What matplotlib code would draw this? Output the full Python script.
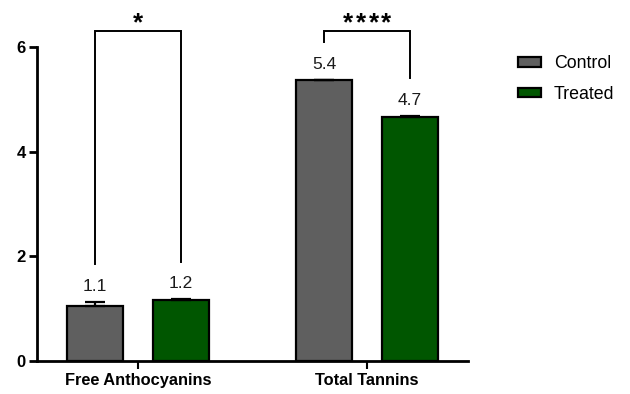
import matplotlib
matplotlib.use("Agg")
import matplotlib.pyplot as plt
import numpy as np
from matplotlib.patches import Patch

plt.rcParams["font.family"] = ["Liberation Sans", "DejaVu Sans"]

categories = ["Free Anthocyanins", "Total Tannins"]
groups = ["Control", "Treated"]
control_mean = [1.06, 5.36]
control_sd = [0.07, 0.01]
treated_mean = [1.16, 4.67]
treated_sd = [0.02, 0.01]
sig_stars = [1, 4]
yticks = [0, 2, 4, 6]

COLORS = {"Control": "#5f5f5f", "Treated": "#005600"}

fig = plt.figure(figsize=(6.3, 3.94), dpi=100)
ax = fig.add_axes([0.0587, 0.0838, 0.743 - 0.0587, 0.8807 - 0.0838])

x = np.arange(len(categories))
off, width = 0.188, 0.245
series = [(control_mean, control_sd, "Control", -off), (treated_mean, treated_sd, "Treated", off)]
for means, sds, name, dx in series:
    ax.bar(x + dx, means, width, color=COLORS[name], edgecolor="black", linewidth=1.6, zorder=2)
    ax.errorbar(x + dx, means, yerr=[np.zeros(len(sds)), sds], fmt="none", ecolor="black",
                elinewidth=1.6, capsize=7, capthick=1.6, zorder=3)
    for xi, m, s in zip(x + dx, means, sds):
        ax.annotate(f"{m:.1f}", (xi, m + s), xytext=(0, 6), textcoords="offset points",
                    ha="center", va="bottom", fontsize=12.5, color="#1a1a1a")

# significance brackets between the two groups of each category
bracket_top = 6.31
star_pitch = 9.2  # points between asterisks
for i, n in enumerate(sig_stars):
    x0, x1 = x[i] - off, x[i] + off
    y0 = control_mean[i] + control_sd[i] + 0.72
    y1 = treated_mean[i] + treated_sd[i] + 0.72
    ax.plot([x0, x0, x1, x1], [y0, bracket_top, bracket_top, y1], color="black", lw=1.4,
            clip_on=False, solid_joinstyle="miter")
    for k in range(n):
        dx_pt = (k - (n - 1) / 2) * star_pitch
        ax.annotate("*", (x[i], bracket_top), xytext=(dx_pt, 0.5), textcoords="offset points",
                    ha="center", va="baseline", fontsize=18.5, fontweight="bold",
                    annotation_clip=False)

ax.set_xlim(-0.441, 1.441)
ax.set_ylim(0, 6)
ax.set_yticks(yticks)
ax.set_yticklabels([str(t) for t in yticks], fontweight="bold", fontsize=12)
ax.set_xticks(x)
ax.set_xticklabels(categories, fontweight="bold", fontsize=11.8)
for side in ("top", "right"):
    ax.spines[side].set_visible(False)
for side in ("left", "bottom"):
    ax.spines[side].set_linewidth(2)
ax.tick_params(axis="y", length=6, width=2, pad=2)
ax.tick_params(axis="x", length=6, width=1.5, pad=3)

handles = [Patch(facecolor=COLORS[g], edgecolor="black", linewidth=1.6) for g in groups]
fig.legend(handles, groups, loc="upper left", bbox_to_anchor=(0.797, 0.9), frameon=False,
           fontsize=12.8, handlelength=1.3, handleheight=0.45, handletextpad=0.7,
           labelspacing=0.75)

fig.savefig("out.png", dpi=100)
